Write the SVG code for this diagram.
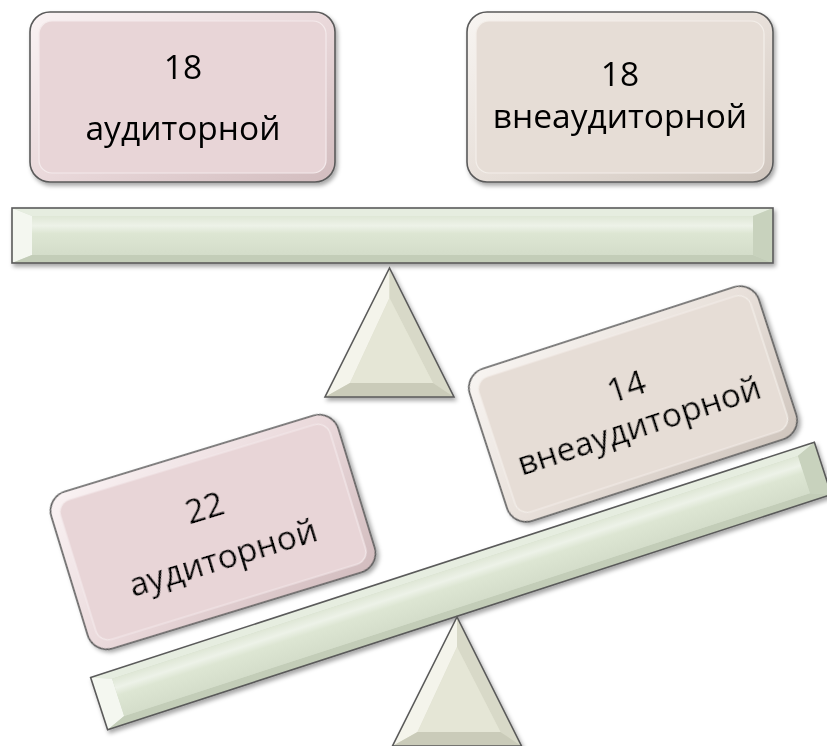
<svg xmlns="http://www.w3.org/2000/svg" width="827" height="746" viewBox="0 0 827 746">
  <style>
    .lbl { font-family: "Open Sans", "Noto Sans", "DejaVu Sans", sans-serif; font-size: 33.5px; fill: #000; text-anchor: middle; }
    .rim { stroke: #5a5a5a; stroke-width: 1.6; }
    .pinkRim { fill: url(#pinkRim); }
    .pinkFace { fill: #e8d5d7; stroke: #f4eaeb; stroke-width: 1.2; }
    .beigeRim { fill: url(#beigeRim); }
    .beigeFace { fill: #e6ddd6; stroke: #f3eee9; stroke-width: 1.2; }
  </style>
  <defs>
    <filter id="shadow" x="-10%" y="-10%" width="120%" height="130%">
      <feDropShadow dx="2" dy="3" stdDeviation="2.2" flood-color="#000" flood-opacity="0.35"/>
    </filter>
    <linearGradient id="pinkRim" x1="0" y1="0" x2="1" y2="1">
      <stop offset="0" stop-color="#faf3f4"/>
      <stop offset="0.5" stop-color="#ead9db"/>
      <stop offset="1" stop-color="#d2bcbe"/>
    </linearGradient>
    <linearGradient id="beigeRim" x1="0" y1="0" x2="1" y2="1">
      <stop offset="0" stop-color="#f8f5f2"/>
      <stop offset="0.5" stop-color="#e8e0da"/>
      <stop offset="1" stop-color="#cfc5bd"/>
    </linearGradient>
    <linearGradient id="barFace" x1="0" y1="0" x2="0" y2="1">
      <stop offset="0" stop-color="#dfe7d6"/>
      <stop offset="0.25" stop-color="#edf2e8"/>
      <stop offset="0.45" stop-color="#dde6d3"/>
      <stop offset="1" stop-color="#d4ddca"/>
    </linearGradient>
    <g id="bar">
      <rect x="-380.5" y="-27.5" width="761" height="55" fill="#d3dccb"/>
      <polygon points="-380.5,-27.5 380.5,-27.5 360.5,-19.5 -360.5,-19.5" fill="#e6ede0"/>
      <polygon points="-380.5,-27.5 -360.5,-19.5 -360.5,19.5 -380.5,27.5" fill="#f4f7f0"/>
      <polygon points="380.5,-27.5 380.5,27.5 360.5,19.5 360.5,-19.5" fill="#c8d2bd"/>
      <polygon points="-380.5,27.5 -360.5,19.5 360.5,19.5 380.5,27.5" fill="#c3cdb8"/>
      <rect x="-360.5" y="-19.5" width="721" height="39" fill="url(#barFace)"/>
      <rect x="-380.5" y="-27.5" width="761" height="55" fill="none" class="rim"/>
    </g>
    <g id="tri">
      <polygon points="0,-64.5 -64.5,64.5 64.5,64.5" fill="#dedfcd"/>
      <polygon points="0,-64.5 -64.5,64.5 -39.5,50.5 0,-34.5" fill="#f4f4eb"/>
      <polygon points="0,-64.5 0,-34.5 43.5,50.5 64.5,64.5" fill="#d8d9c8"/>
      <polygon points="-64.5,64.5 -39.5,50.5 43.5,50.5 64.5,64.5" fill="#cacbb9"/>
      <polygon points="0,-34.5 -39.5,50.5 43.5,50.5" fill="#e5e6d6"/>
      <polygon points="0,-64.5 -64.5,64.5 64.5,64.5" fill="none" class="rim"/>
    </g>
  </defs>

  <g id="beam-top" filter="url(#shadow)">
    <use href="#bar" transform="translate(392.5,235.5)"/>
  </g>
  <g id="fulcrum-top" filter="url(#shadow)">
    <use href="#tri" transform="translate(389.5,332.5)"/>
  </g>

  <g id="node-top-left" filter="url(#shadow)">
    <rect x="30" y="12" width="305" height="170" rx="20" class="rim pinkRim"/>
    <rect x="39" y="21" width="287" height="152" rx="13" class="pinkFace"/>
    <text x="183" y="79" class="lbl">18</text>
    <text x="183" y="140" class="lbl">аудиторной</text>
  </g>

  <g id="node-top-right" filter="url(#shadow)">
    <rect x="467" y="12" width="306" height="170" rx="20" class="rim beigeRim"/>
    <rect x="476" y="21" width="288" height="152" rx="13" class="beigeFace"/>
    <text x="620" y="86" class="lbl">18</text>
    <text x="620" y="128" class="lbl">внеаудиторной</text>
  </g>

  <g id="beam-bottom" filter="url(#shadow)">
    <use href="#bar" transform="translate(461,586) rotate(-18)"/>
  </g>
  <g id="fulcrum-bottom" filter="url(#shadow)">
    <use href="#tri" transform="translate(457,681.5)"/>
  </g>

  <g id="node-bottom-left" filter="url(#shadow)" transform="translate(213,532) rotate(-17)">
    <rect x="-150" y="-82" width="300" height="164" rx="20" class="rim pinkRim"/>
    <rect x="-141" y="-73" width="282" height="146" rx="13" class="pinkFace"/>
    <text x="-1" y="-14" class="lbl">22</text>
    <text x="2" y="39" class="lbl">аудиторной</text>
  </g>

  <g id="node-bottom-right" filter="url(#shadow)" transform="translate(633,404) rotate(-18)">
    <rect x="-152" y="-80" width="304" height="160" rx="20" class="rim beigeRim"/>
    <rect x="-143" y="-71" width="286" height="142" rx="13" class="beigeFace"/>
    <text x="-1" y="-7" class="lbl">14</text>
    <text x="-1" y="34" class="lbl">внеаудиторной</text>
  </g>

  <g id="connectors"/>
</svg>
